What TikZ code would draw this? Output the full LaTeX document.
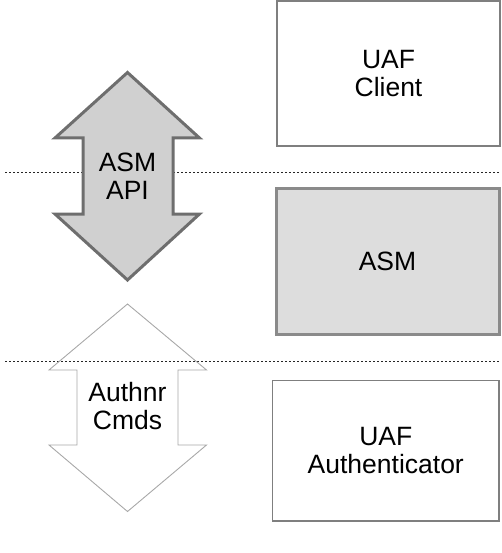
\documentclass[tikz,border=0pt]{standalone}
\usepackage{fontspec}
\setmainfont{Liberation Sans}
\definecolor{thinline}{HTML}{7F7F7F}
\definecolor{thickline}{HTML}{8A8A8A}
\definecolor{asmfill}{HTML}{DDDDDD}
\definecolor{arrowline}{HTML}{6E6E6E}
\definecolor{arrowfill}{HTML}{D0D0D0}
\definecolor{lightline}{HTML}{A8A8A8}
\begin{document}
\begin{tikzpicture}[x=1pt,y=-1pt,
  lbl/.style={align=center,inner sep=0pt,font=\fontsize{26.5}{28}\selectfont},
  plainbox/.style={draw=thinline,line width=1.2pt,fill=white,inner sep=0pt,lbl},
  asmbox/.style={draw=thickline,line width=3pt,fill=asmfill,inner sep=0pt,lbl},
  dotline/.style={black!85,line width=1pt,dash pattern=on 2pt off 2pt},
  apiarrow/.style={draw=arrowline,fill=arrowfill,line width=3pt,line join=miter},
  cmdarrow/.style={draw=lightline,line width=0.9pt,line join=miter}]
\useasboundingbox (0,0) rectangle (502,553);
% layer separators
\coordinate (d1a) at (5,172.5);
\coordinate (d1b) at (500,172.5);
\coordinate (d2a) at (5,361.5);
\coordinate (d2b) at (500,361.5);
\draw[dotline] (d1a) -- (d1b);
\draw[dotline] (d2a) -- (d2b);
% ASM API double arrow
\draw[apiarrow] (127.5,72.5) -- (199.5,138) -- (173,138) -- (173,214) -- (199.5,214)
  -- (127.5,280) -- (55,214) -- (83,214) -- (83,138) -- (55,138) -- cycle;
\node[lbl] (api) at (127.5,176) {ASM\\API};
% Authnr Cmds double arrow
\draw[cmdarrow] (127.5,304) -- (206.5,370) -- (178,370) -- (178,445) -- (206.5,445)
  -- (127.5,511.5) -- (49,445) -- (77,445) -- (77,370) -- (49,370) -- cycle;
\node[lbl] (cmds) at (127.5,406) {Authnr\\Cmds};
% boxes
\node[plainbox,minimum width=223pt,minimum height=145pt] (client) at (388.5,73.5) {UAF\\Client};
\node[asmbox,minimum width=223pt,minimum height=146pt] (asm) at (387.5,261.5) {ASM};
\node[plainbox,minimum width=226.5pt,minimum height=140.5pt] (auth) at (385.75,450.75) {UAF\\Authenticator};
\end{tikzpicture}
\end{document}
